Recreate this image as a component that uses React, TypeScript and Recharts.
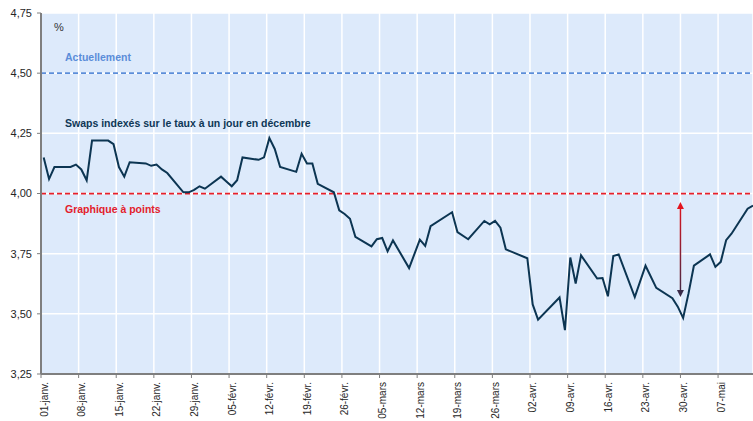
import React from 'react';
import {
  LineChart,
  Line,
  XAxis,
  YAxis,
  CartesianGrid,
  ReferenceLine,
  Customized,
} from 'recharts';

// ---- Data ----
const dates = [
  '2025-01-01', '2025-01-02', '2025-01-03', '2025-01-06', '2025-01-07', '2025-01-08', '2025-01-09', '2025-01-10',
  '2025-01-13', '2025-01-14', '2025-01-15', '2025-01-16', '2025-01-17',
  '2025-01-20', '2025-01-21', '2025-01-22', '2025-01-23', '2025-01-24',
  '2025-01-27', '2025-01-28', '2025-01-29', '2025-01-30', '2025-01-31',
  '2025-02-03', '2025-02-04', '2025-02-05', '2025-02-06', '2025-02-07',
  '2025-02-10', '2025-02-11', '2025-02-12', '2025-02-13', '2025-02-14',
  '2025-02-17', '2025-02-18', '2025-02-19', '2025-02-20', '2025-02-21',
  '2025-02-24', '2025-02-25', '2025-02-26', '2025-02-27', '2025-02-28',
  '2025-03-03', '2025-03-04', '2025-03-05', '2025-03-06', '2025-03-07',
  '2025-03-10', '2025-03-12', '2025-03-13', '2025-03-14',
  '2025-03-18', '2025-03-19', '2025-03-21',
  '2025-03-24', '2025-03-25', '2025-03-26', '2025-03-27', '2025-03-28',
  '2025-04-01', '2025-04-02', '2025-04-03',
  '2025-04-07', '2025-04-08', '2025-04-09', '2025-04-10', '2025-04-11',
  '2025-04-14', '2025-04-15', '2025-04-16', '2025-04-17', '2025-04-18',
  '2025-04-21', '2025-04-23', '2025-04-25',
  '2025-04-28', '2025-04-29', '2025-04-30', '2025-05-01', '2025-05-02',
  '2025-05-05', '2025-05-06', '2025-05-07', '2025-05-08', '2025-05-09',
  '2025-05-12', '2025-05-13',
];

const swapValues = [
  4.15, 4.06, 4.11, 4.11, 4.12, 4.10, 4.055, 4.22,
  4.22, 4.205, 4.11, 4.07, 4.13,
  4.125, 4.115, 4.12, 4.10, 4.085,
  4.005, 4.005, 4.015, 4.03, 4.02,
  4.07, 4.05, 4.03, 4.055, 4.15,
  4.14, 4.15, 4.23, 4.185, 4.11,
  4.09, 4.165, 4.125, 4.125, 4.04,
  4.005, 3.93, 3.915, 3.895, 3.82,
  3.78, 3.81, 3.815, 3.76, 3.805,
  3.69, 3.808, 3.782, 3.864,
  3.922, 3.84, 3.81,
  3.886, 3.872, 3.886, 3.858, 3.768,
  3.731, 3.539, 3.476,
  3.568, 3.432, 3.734, 3.626, 3.743,
  3.647, 3.649, 3.573, 3.74, 3.747,
  3.57, 3.70, 3.608,
  3.565, 3.53, 3.483, 3.585, 3.70,
  3.747, 3.695, 3.716, 3.806, 3.833,
  3.937, 3.95,
];

const xTickDates = [
  '2025-01-01', '2025-01-08', '2025-01-15', '2025-01-22', '2025-01-29',
  '2025-02-05', '2025-02-12', '2025-02-19', '2025-02-26',
  '2025-03-05', '2025-03-12', '2025-03-19', '2025-03-26',
  '2025-04-02', '2025-04-09', '2025-04-16', '2025-04-23', '2025-04-30',
  '2025-05-07',
];
const xTickLabels = [
  '01-janv.', '08-janv.', '15-janv.', '22-janv.', '29-janv.',
  '05-févr.', '12-févr.', '19-févr.', '26-févr.',
  '05-mars', '12-mars', '19-mars', '26-mars',
  '02-avr.', '09-avr.', '16-avr.', '23-avr.', '30-avr.',
  '07-mai',
];
const yTicks = [3.25, 3.5, 3.75, 4.0, 4.25, 4.5, 4.75];
const lastAxisDate = '2025-05-13';

const currentRate = 4.5;
const dotPlotRate = 4.0;
const arrowDate = '2025-04-30';
const arrowTop = 3.965;
const arrowBottom = 3.57;

const labelCurrent = 'Actuellement';
const labelSwaps = 'Swaps indexés sur le taux à un jour en décembre';
const labelDots = 'Graphique à points';
const unitLabel = '%';

// ---- Helpers ----
const ORIGIN = Date.UTC(2025, 0, 1);
const dayIndex = (iso: string) => {
  const [y, m, d] = iso.split('-').map(Number);
  return Math.round((Date.UTC(y, m - 1, d) - ORIGIN) / 86400000);
};

// points sit in the middle of their day
const data = dates.map((d, i) => ({ x: dayIndex(d) + 0.5, v: swapValues[i] }));
const xTicks = xTickDates.map(dayIndex);
const labelByDay: Record<number, string> = {};
xTickDates.forEach((d, i) => {
  labelByDay[dayIndex(d)] = xTickLabels[i];
});
const xMax = dayIndex(lastAxisDate) + 0.5;

const FONT = '"Liberation Sans", Arial, sans-serif';
const AXIS = '#7f7f7f';

const XTick = (props: any) => {
  const { x, y, payload } = props;
  return (
    <g transform={`translate(${x},${y})`}>
      <text
        transform="rotate(-90)"
        x={-2}
        y={0}
        dy={6.5}
        textAnchor="end"
        fontSize={10}
        fontFamily={FONT}
        fill="#262626"
      >
        {labelByDay[payload.value]}
      </text>
    </g>
  );
};

const ArrowShape = (p: any) => {
  const { x1, y1, y2 } = p;
  const top = Math.min(y1, y2);
  const bot = Math.max(y1, y2);
  return (
    <g>
      <defs>
        <linearGradient id="arrowGrad" gradientUnits="userSpaceOnUse" x1={x1} y1={top} x2={x1} y2={bot}>
          <stop offset="0" stopColor="#E3141E" />
          <stop offset="1" stopColor="#3A2A48" />
        </linearGradient>
      </defs>
      <line x1={x1} y1={top + 6} x2={x1} y2={bot - 6} stroke="url(#arrowGrad)" strokeWidth={1.5} />
      <polygon points={`${x1},${top} ${x1 - 3.5},${top + 7} ${x1 + 3.5},${top + 7}`} fill="#E3141E" />
      <polygon points={`${x1},${bot} ${x1 - 3.5},${bot - 7} ${x1 + 3.5},${bot - 7}`} fill="#3A2A48" />
    </g>
  );
};

const TextLayer = () => (
  <g fontFamily={FONT}>
    <text x={54} y={30.5} fontSize={11} fill="#333333">{unitLabel}</text>
    <text x={65} y={61} fontSize={10.5} fontWeight="bold" fill="#5B8DD9">{labelCurrent}</text>
    <text x={65} y={127} fontSize={10.5} fontWeight="bold" fill="#0E3756">{labelSwaps}</text>
    <text x={65} y={213} fontSize={10.5} fontWeight="bold" fill="#E3202B">{labelDots}</text>
  </g>
);

export default function App() {
  return (
    <div style={{ position: 'absolute', left: 0, top: 0, width: 753, height: 421, overflow: 'hidden', background: '#fff' }}>
      <LineChart
        width={753}
        height={421}
        data={data}
        margin={{ top: 13, right: 0, bottom: 0, left: 0 }}
      >
        <CartesianGrid fill="#DDEAFB" stroke="#ffffff" strokeWidth={1.5} vertical horizontal />
        <XAxis
          type="number"
          dataKey="x"
          domain={[0, xMax]}
          allowDataOverflow
          ticks={xTicks}
          interval={0}
          height={47}
          tickSize={4}
          tickMargin={2}
          tick={<XTick />}
          axisLine={{ stroke: AXIS, strokeWidth: 2 }}
          tickLine={{ stroke: AXIS, strokeWidth: 1 }}
        />
        <YAxis
          type="number"
          domain={[3.25, 4.75]}
          ticks={yTicks}
          interval={0}
          width={41}
          tickSize={4}
          tickMargin={5}
          tickFormatter={(v: number) => v.toFixed(2).replace('.', ',')}
          tick={{ fontSize: 11, fontFamily: FONT, fill: '#262626' }}
          axisLine={{ stroke: AXIS, strokeWidth: 2 }}
          tickLine={{ stroke: AXIS, strokeWidth: 1 }}
        />
        <ReferenceLine y={currentRate} stroke="#5B8DD9" strokeWidth={1.75} strokeDasharray="5 3" />
        <ReferenceLine y={dotPlotRate} stroke="#E8202A" strokeWidth={1.75} strokeDasharray="5 3" />
        <Line
          type="linear"
          dataKey="v"
          stroke="#0C3552"
          strokeWidth={2}
          dot={false}
          isAnimationActive={false}
        />
        <ReferenceLine
          segment={[
            { x: dayIndex(arrowDate), y: arrowTop },
            { x: dayIndex(arrowDate), y: arrowBottom },
          ]}
          shape={<ArrowShape />}
        />
        <Customized component={TextLayer} />
      </LineChart>
    </div>
  );
}
